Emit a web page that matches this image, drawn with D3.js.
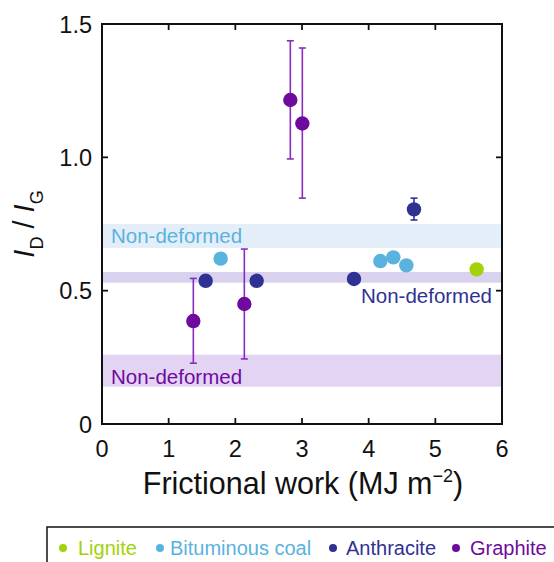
<!DOCTYPE html>
<html><head><meta charset="utf-8">
<script src="https://cdn.jsdelivr.net/npm/d3@7"></script>
<style>body{margin:0;background:#fff}svg{display:block}text{font-family:"Liberation Sans",Arial,Helvetica,sans-serif}</style>
</head><body>
<script>
const seriesNames = ["Lignite","Bituminous coal","Anthracite","Graphite"];
const seriesColors = ["#a3d10c","#5ab2df","#2f3193","#6e0a9e"];
const errColors = ["#a3d10c","#5ab2df","#2f3193","#8a2bc0"];
const ligniteX = [5.62], ligniteY = [0.58];
const bituminousX = [1.78,4.175,4.37,4.565], bituminousY = [0.62,0.611,0.625,0.595];
const anthraciteX = [1.555,2.32,3.78,4.68], anthraciteY = [0.537,0.537,0.544,0.805];
const anthraciteErrLo = [null,null,null,0.765], anthraciteErrHi = [null,null,null,0.847];
const graphiteX = [1.37,2.135,2.825,3.005], graphiteY = [0.386,0.45,1.215,1.127];
const graphiteErrLo = [0.228,0.244,0.994,0.847], graphiteErrHi = [0.546,0.656,1.437,1.41];
const bandLo = [0.66,0.53,0.14], bandHi = [0.75,0.57,0.26];
const bandColors = ["#e3eef9","#d8d2ef","#e3d4f4"];
const bandLabelColors = ["#5ab2df","#2f3193","#6e0a9e"];
const xTicks = [0,1,2,3,4,5,6];
const yTicks = [0,0.5,1.0,1.5];
const yTickLabels = ["0","0.5","1.0","1.5"];

const W=554,H=562;
const svg=d3.select("body").append("svg").attr("width",W).attr("height",H);
const x=d3.scaleLinear().domain([0,6]).range([102,502]);
const y=d3.scaleLinear().domain([0,1.5]).range([424,24]);

// bands
svg.selectAll("rect.band").data(bandLo).enter().append("rect")
  .attr("x",x(0)).attr("width",x(6)-x(0))
  .attr("y",(d,i)=>y(bandHi[i])).attr("height",(d,i)=>y(bandLo[i])-y(bandHi[i]))
  .attr("fill",(d,i)=>bandColors[i]);
// band labels
const bl=20.5;
svg.append("text").attr("x",x(0)+9).attr("y",y(bandLo[0])-5).attr("font-size",bl).attr("fill",bandLabelColors[0]).text("Non-deformed");
svg.append("text").attr("x",x(6)-10).attr("y",y(bandLo[1])+20).attr("text-anchor","end").attr("font-size",bl).attr("fill",bandLabelColors[1]).text("Non-deformed");
svg.append("text").attr("x",x(0)+9).attr("y",y(bandLo[2])-3).attr("font-size",bl).attr("fill",bandLabelColors[2]).text("Non-deformed");

// axes (ticks inward)
const g=svg.append("g");
const tl=6;
g.selectAll("line.xb").data(xTicks.slice(1,-1)).enter().append("line")
  .attr("x1",d=>x(d)).attr("x2",d=>x(d)).attr("y1",y(0)).attr("y2",y(0)-tl).attr("stroke","#111").attr("stroke-width",1.8);
g.selectAll("line.xt").data(xTicks.slice(1,-1)).enter().append("line")
  .attr("x1",d=>x(d)).attr("x2",d=>x(d)).attr("y1",y(1.5)).attr("y2",y(1.5)+tl).attr("stroke","#111").attr("stroke-width",1.8);
g.selectAll("line.yl").data(yTicks.slice(1,-1)).enter().append("line")
  .attr("x1",x(0)).attr("x2",x(0)+tl).attr("y1",d=>y(d)).attr("y2",d=>y(d)).attr("stroke","#111").attr("stroke-width",1.8);
g.selectAll("line.yr").data(yTicks.slice(1,-1)).enter().append("line")
  .attr("x1",x(6)).attr("x2",x(6)-tl).attr("y1",d=>y(d)).attr("y2",d=>y(d)).attr("stroke","#111").attr("stroke-width",1.8);
svg.append("rect").attr("x",x(0)).attr("y",y(1.5)).attr("width",x(6)-x(0)).attr("height",y(0)-y(1.5))
  .attr("fill","none").attr("stroke","#111").attr("stroke-width",2);

g.selectAll("text.xl").data(xTicks).enter().append("text")
  .attr("x",d=>x(d)).attr("y",y(0)+33).attr("text-anchor","middle").attr("font-size",23.5).attr("fill","#111").text(d=>d);
g.selectAll("text.yl").data(yTicks).enter().append("text")
  .attr("x",x(0)-10).attr("y",d=>y(d)+8.5).attr("text-anchor","end").attr("font-size",23.5).attr("fill","#111").text((d,i)=>yTickLabels[i]);

// x title
const xt=svg.append("text").attr("x",(x(0)+x(6))/2+1).attr("y",494).attr("text-anchor","middle").attr("font-size",30.5).attr("fill","#111");
xt.append("tspan").text("Frictional work (MJ m");
xt.append("tspan").attr("font-size",18).attr("dy",-12).text("\u22122");
xt.append("tspan").attr("dy",12).text(")");
// y title
const yt=svg.append("text").attr("transform","translate(34,224) rotate(-90)").attr("text-anchor","middle").attr("font-size",29).attr("fill","#111");
yt.append("tspan").attr("font-style","italic").text("I");
yt.append("tspan").attr("font-size",18).attr("dy",9).text("D");
yt.append("tspan").attr("dy",-9).text(" / ");
yt.append("tspan").attr("font-style","italic").text("I");
yt.append("tspan").attr("font-size",18).attr("dy",9).text("G");

// error bars
function errBars(xs,lo,hi,col){
  const idx=xs.map((d,i)=>i).filter(i=>lo[i]!=null);
  const eg=svg.append("g").attr("stroke",col).attr("stroke-width",1.6);
  idx.forEach(i=>{
    eg.append("line").attr("x1",x(xs[i])).attr("x2",x(xs[i])).attr("y1",y(lo[i])).attr("y2",y(hi[i]));
    eg.append("line").attr("x1",x(xs[i])-3.5).attr("x2",x(xs[i])+3.5).attr("y1",y(lo[i])).attr("y2",y(lo[i]));
    eg.append("line").attr("x1",x(xs[i])-3.5).attr("x2",x(xs[i])+3.5).attr("y1",y(hi[i])).attr("y2",y(hi[i]));
  });
}
errBars(graphiteX,graphiteErrLo,graphiteErrHi,errColors[3]);
errBars(anthraciteX,anthraciteErrLo,anthraciteErrHi,errColors[2]);

function pts(xs,ys,col){
  svg.append("g").selectAll("circle").data(xs).enter().append("circle")
    .attr("cx",d=>x(d)).attr("cy",(d,i)=>y(ys[i])).attr("r",7.2).attr("fill",col);
}
pts(ligniteX,ligniteY,seriesColors[0]);
pts(bituminousX,bituminousY,seriesColors[1]);
pts(anthraciteX,anthraciteY,seriesColors[2]);
pts(graphiteX,graphiteY,seriesColors[3]);

// legend
svg.append("rect").attr("x",47).attr("y",527).attr("width",530).attr("height",60).attr("fill","none").attr("stroke","#111").attr("stroke-width",1.5);
const legCx=[63,160,333,456], legTx=[78,170,346,470];
const lg=svg.append("g");
seriesNames.forEach((n,i)=>{
  lg.append("circle").attr("cx",legCx[i]).attr("cy",548).attr("r",4).attr("fill",seriesColors[i]);
  lg.append("text").attr("x",legTx[i]).attr("y",555).attr("font-size",20).attr("fill",seriesColors[i]).text(n);
});
</script>
</body></html>
